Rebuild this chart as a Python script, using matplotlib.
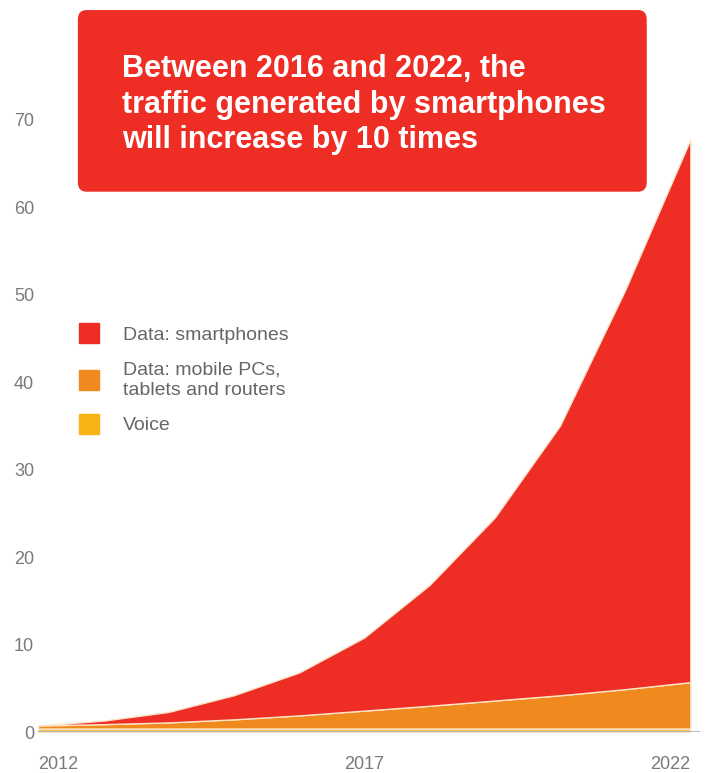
import matplotlib.pyplot as plt
from matplotlib.patches import FancyBboxPatch
from matplotlib.lines import Line2D

plt.rcParams['font.family'] = ['Liberation Sans', 'DejaVu Sans']

years = [2012, 2013, 2014, 2015, 2016, 2017, 2018, 2019, 2020, 2021, 2022]
voice = [0.4, 0.4, 0.4, 0.4, 0.4, 0.4, 0.4, 0.4, 0.4, 0.4, 0.4]
mobile_pcs = [0.35, 0.5, 0.7, 1.05, 1.5, 2.05, 2.6, 3.2, 3.8, 4.5, 5.3]
smartphones = [0.0, 0.4, 1.2, 2.75, 4.9, 8.35, 13.8, 20.9, 30.8, 45.6, 62.0]

labels = ["Voice", "Data: mobile PCs,\ntablets and routers", "Data: smartphones"]
colors = ["#F7B515", "#F08A1E", "#EE2D24"]

fig = plt.figure(figsize=(7.21, 7.73), dpi=100)
ax = fig.add_axes([0.053, 0.053, 0.918, 0.849])

ax.stackplot(years, voice, mobile_pcs, smartphones, colors=colors,
             edgecolor="#FBE3C8", linewidth=1.0)
ax.axhline(0, color="#A9B8C4", linewidth=2, zorder=5)

ax.set_xlim(2012, 2022.15)
ax.set_ylim(0, 75)
ax.set_yticks(range(0, 80, 10))
ax.set_xticks([2012, 2017, 2022])
ax.set_xticklabels(["2012", "2017", "2022"])
for lab, ha in zip(ax.get_xticklabels(), ["left", "center", "right"]):
    lab.set_ha(ha)
ax.tick_params(axis='both', length=0, labelsize=13, labelcolor="#7a7a7a")
ax.tick_params(axis='x', pad=17)
ax.tick_params(axis='y', pad=3)
for s in ax.spines.values():
    s.set_visible(False)

# legend, smartphones first
handles = [Line2D([], [], marker='s', linestyle='none', markersize=15,
                  markerfacecolor=c, markeredgecolor=c) for c in colors[::-1]]
leg = ax.legend(handles, labels[::-1], loc='upper left', bbox_to_anchor=(0.035, 0.645),
                frameon=False, fontsize=14, labelspacing=0.9, handletextpad=1.25,
                handlelength=1.0)
for t in leg.get_texts():
    t.set_color("#666666")
    t.set_linespacing(1.3)

# red title box
box = FancyBboxPatch((0.108, 0.752), 0.789, 0.235, boxstyle="round,pad=0,rounding_size=0.012",
                     transform=fig.transFigure, facecolor="#EE2D24", edgecolor="none")
fig.patches.append(box)
fig.text(0.169, 0.930, "Between 2016 and 2022, the\ntraffic generated by smartphones\nwill increase by 10 times",
         color="white", fontsize=22, fontweight='bold', va='top', ha='left', linespacing=1.24)

fig.savefig("out.png", dpi=100)
